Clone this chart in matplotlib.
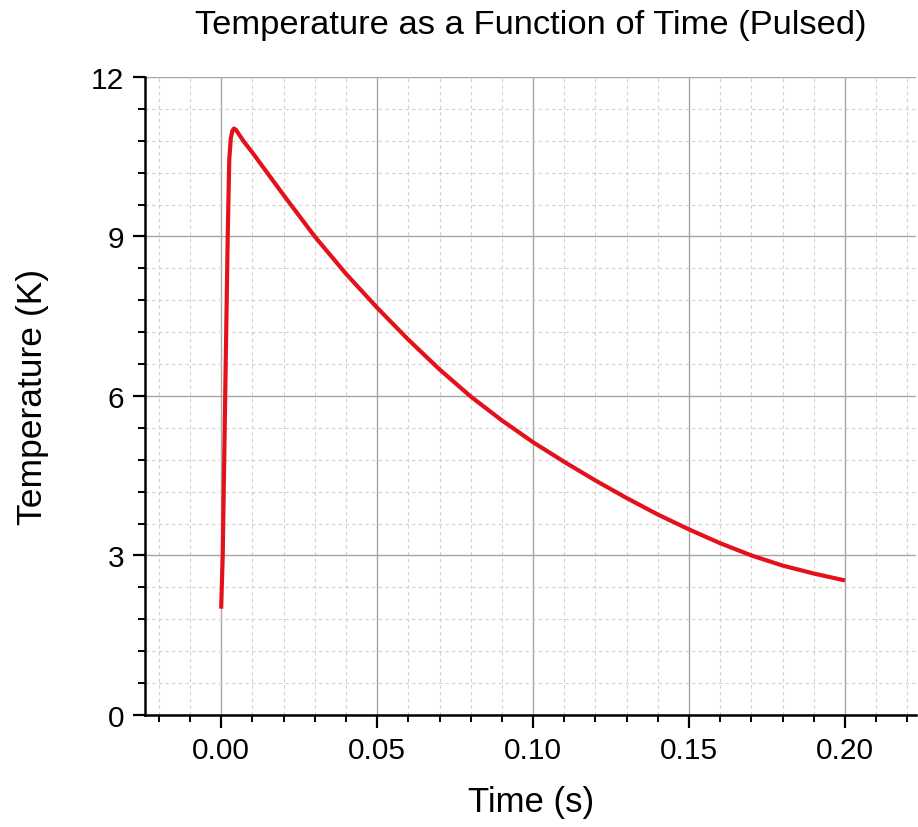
import matplotlib
matplotlib.use("Agg")
import matplotlib.pyplot as plt
from matplotlib.ticker import MultipleLocator, FormatStrFormatter

plt.rcParams["font.family"] = ["Liberation Sans", "DejaVu Sans"]

# values
time_s = [0.0, 0.0005, 0.0013, 0.0021, 0.0026, 0.0031, 0.0036, 0.0041, 0.0047,
          0.0072, 0.01, 0.02, 0.03, 0.04, 0.05, 0.06, 0.07, 0.08, 0.09, 0.10,
          0.11, 0.12, 0.13, 0.14, 0.15, 0.16, 0.17, 0.18, 0.19, 0.20]
temp_k = [2.0, 3.0, 6.0, 9.0, 10.45, 10.85, 10.99, 11.03, 11.01,
          10.79, 10.58, 9.78, 9.0, 8.3, 7.66, 7.06, 6.5, 5.99, 5.54, 5.13,
          4.76, 4.41, 4.08, 3.77, 3.49, 3.23, 3.0, 2.81, 2.66, 2.53]

fig = plt.figure(figsize=(9.18, 8.28), dpi=100)
ax = fig.add_axes([0.158, 0.1353, 0.840, 0.7705])

ax.plot(time_s, temp_k, color="#e3111b", lw=3.0, zorder=3,
        solid_joinstyle="round", solid_capstyle="butt")

ax.set_xlim(-0.0244, 0.2228)
ax.set_ylim(0, 12)

ax.xaxis.set_major_locator(MultipleLocator(0.05))
ax.xaxis.set_minor_locator(MultipleLocator(0.01))
ax.xaxis.set_major_formatter(FormatStrFormatter("%.2f"))
ax.yaxis.set_major_locator(MultipleLocator(3))
ax.yaxis.set_minor_locator(MultipleLocator(0.6))

ax.grid(which="major", color="#a6a6a6", lw=1.0, ls="-")
ax.grid(which="minor", color="#cfcfcf", lw=0.8, ls=(0, (3, 3)))
ax.set_axisbelow(True)

for s in ["top", "right"]:
    ax.spines[s].set_visible(False)
for s in ["left", "bottom"]:
    ax.spines[s].set_linewidth(1.8)
    ax.spines[s].set_color("black")

ax.tick_params(which="major", direction="out", length=9, width=1.6,
               labelsize=21.5, pad=6)
ax.tick_params(which="minor", direction="out", length=5, width=1.4)

ax.set_title("Temperature as a Function of Time (Pulsed)", fontsize=24.8,
             pad=32)
ax.set_xlabel("Time (s)", fontsize=25, labelpad=15)
ax.set_ylabel("Temperature (K)", fontsize=25.5, labelpad=30)

fig.savefig("out.png", dpi=100)
